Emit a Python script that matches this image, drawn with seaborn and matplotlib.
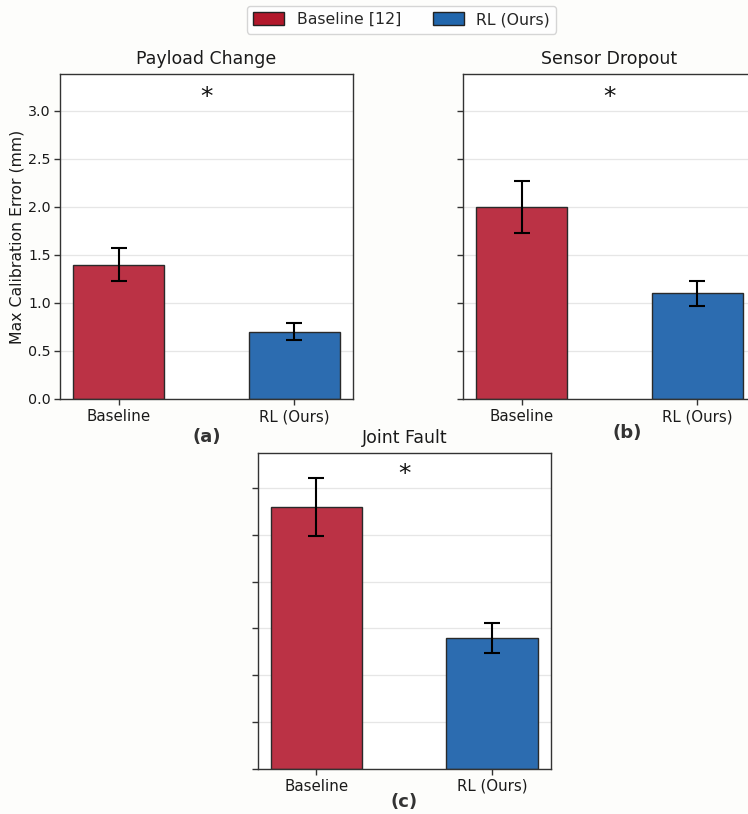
import matplotlib
matplotlib.use("Agg")
import matplotlib.pyplot as plt
import seaborn as sns
import pandas as pd
from matplotlib.patches import Patch

# Methods compared in every scenario
methods = ["Baseline", "RL (Ours)"]
legend_labels = ["Baseline [12]", "RL (Ours)"]

# Scenario titles and panel tags
scenarios = ["Payload Change", "Sensor Dropout", "Joint Fault"]
panel_tags = ["(a)", "(b)", "(c)"]

# Max calibration error (mm): mean and error-bar half-width per method
payload_mean = [1.40, 0.70]
payload_err = [0.17, 0.09]
dropout_mean = [2.00, 1.10]
dropout_err = [0.27, 0.13]
fault_mean = [2.80, 1.40]
fault_err = [0.31, 0.16]

y_ticks = [0.0, 0.5, 1.0, 1.5, 2.0, 2.5, 3.0]

sns.set_theme(style="ticks")
plt.rcParams["font.family"] = ["DejaVu Sans"]
plt.rcParams["axes.edgecolor"] = "#333333"
plt.rcParams["xtick.color"] = "#333333"
plt.rcParams["ytick.color"] = "#333333"

bar_fill = ["#BB3245", "#2C6CB0"]
legend_fill = ["#B2182B", "#2166AC"]
bg = "#FDFDFB"

W, H = 748, 814
fig = plt.figure(figsize=(W / 100, H / 100), dpi=100, facecolor=bg)


def frac(left, top, right, bottom):
    return [left / W, 1 - bottom / H, (right - left) / W, (bottom - top) / H]


ax_a = fig.add_axes(frac(60, 74, 353, 399))
ax_b = fig.add_axes(frac(463, 74, 756, 399))
ax_c = fig.add_axes(frac(257.5, 452.5, 551, 768.5))

panels = [
    (ax_a, payload_mean, payload_err),
    (ax_b, dropout_mean, dropout_err),
    (ax_c, fault_mean, fault_err),
]

for i, (ax, means, errs) in enumerate(panels):
    df = pd.DataFrame({"method": methods, "error": means})
    ax.set_facecolor("white")
    ax.set_axisbelow(True)
    ax.yaxis.grid(True, color="#E6E6E6", linewidth=0.9)
    sns.barplot(data=df, x="method", y="error", hue="method",
                palette=bar_fill, saturation=1, width=0.52,
                edgecolor="#2A2A2A", linewidth=1.0, legend=False, ax=ax)
    ax.errorbar(range(len(methods)), means, yerr=errs, fmt="none",
                ecolor="black", elinewidth=1.5, capsize=6, capthick=1.5,
                zorder=5)
    ax.text(0.5, 3.15, "*", ha="center", va="center", fontsize=18,
            color="#111111")
    ax.set_xlim(-0.336, 1.336)
    ax.set_ylim(0, 3.385)
    ax.set_yticks(y_ticks)
    ax.set_title(scenarios[i], fontsize=12.5, pad=7, color="#1a1a1a")
    ax.set_xlabel("")
    ax.tick_params(axis="x", length=4, width=1, labelsize=10.8,
                   labelcolor="#1a1a1a")
    ax.tick_params(axis="y", length=4, width=1, labelsize=10.3, pad=2.5,
                   labelcolor="#1a1a1a")
    for s in ax.spines.values():
        s.set_linewidth(1.0)
        s.set_visible(True)
    if i == 0:
        ax.set_ylabel("Max Calibration Error (mm)", fontsize=11.3,
                      color="#1a1a1a", labelpad=3)
        ax.set_yticklabels([f"{t:.1f}" for t in y_ticks])
    else:
        ax.set_ylabel("")
        ax.set_yticklabels([])

# Panel tags under each subplot
tag_pos = [(207, 437.5), (627, 433), (404, 802)]
for tag, (x, y) in zip(panel_tags, tag_pos):
    fig.text(x / W, 1 - y / H, tag, ha="center", va="center",
             fontsize=13, fontweight="bold", color="#333333")

handles = [Patch(facecolor=c, edgecolor="#222222", linewidth=1.0)
           for c in legend_fill]
fig.legend(handles, legend_labels, loc="upper center", ncol=2,
           bbox_to_anchor=(401.5 / W, 1 - 6 / H), borderaxespad=0,
           fontsize=11.3, frameon=True, fancybox=True, edgecolor="#CCCCCC",
           facecolor="white", handlelength=2.0, handleheight=0.9,
           handletextpad=0.8, columnspacing=2.0, borderpad=0.4)

fig.savefig("out.png", dpi=100, facecolor=bg)
